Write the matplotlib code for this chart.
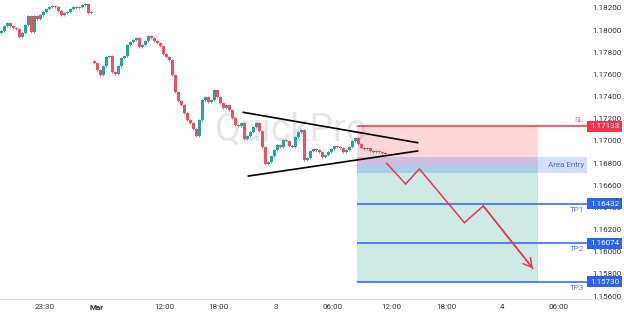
import matplotlib
matplotlib.use("Agg")
import matplotlib.pyplot as plt
from matplotlib.patches import Rectangle
from matplotlib.transforms import blended_transform_factory
import numpy as np

plt.rcParams['font.family'] = ['Roboto', 'DejaVu Sans']

# ---------------- data ----------------
closes = [
    1.17992, 1.18037, 1.18064, 1.18037, 1.18019, 1.18010, 1.17938, 1.17974, 1.18046, 1.18128,
    1.17983, 1.18128, 1.18100, 1.18137, 1.18164, 1.18191, 1.18209, 1.18218, 1.18209, 1.18173,
    1.18137, 1.18155, 1.18164, 1.18191, 1.18209, 1.18200, 1.18209, 1.18227, 1.18236, 1.18155,
    1.18160,
    1.17703, 1.17640, 1.17595, 1.17676, 1.17757, 1.17766, 1.17622, 1.17604, 1.17676, 1.17748,
    1.17766, 1.17866, 1.17893, 1.17911, 1.17929, 1.17848, 1.17866, 1.17902, 1.17947, 1.17929,
    1.17902, 1.17884, 1.17857, 1.17785, 1.17757, 1.17730, 1.17595, 1.17441, 1.17360, 1.17324,
    1.17252, 1.17189, 1.17162, 1.17107, 1.17044, 1.17189, 1.17369, 1.17396, 1.17351, 1.17369,
    1.17460, 1.17396, 1.17342, 1.17297, 1.17324, 1.17279, 1.17207, 1.17143, 1.17134, 1.17162,
    1.17017, 1.17044, 1.17080, 1.17125, 1.17162, 1.17089, 1.16945, 1.16791, 1.16810, 1.16864,
    1.16918, 1.16963, 1.16945, 1.17008, 1.16999, 1.16954, 1.16945, 1.17035, 1.17080, 1.17098,
    1.16827, 1.16846, 1.16909, 1.16927, 1.16918, 1.16900, 1.16855, 1.16873, 1.16900, 1.16927,
    1.16954, 1.16945, 1.16936, 1.16900, 1.16918, 1.16945, 1.16999, 1.17026, 1.16972, 1.16936,
    1.16927, 1.16936, 1.16909, 1.16900, 1.16909, 1.16900, 1.16891, 1.16882,
]
first_open = 1.17970
gap_index = 31
gap_open = 1.17720

x_tick_pos = [14.5, 31.83, 54.17, 72.17, 91.5, 110.5, 129.83, 148.17, 166.83, 185.83]
x_tick_labels = ["23:30", "Mar", "12:00", "18:00", "3", "06:00", "12:00", "18:00", "4", "06:00"]
y_ticks = [1.182, 1.180, 1.178, 1.176, 1.174, 1.172, 1.170, 1.168, 1.166, 1.164, 1.162, 1.160, 1.158, 1.156]

sl_level = 1.17133
tp_levels = [1.16432, 1.16074, 1.15730]
tp_names = ["TP1", "TP2", "TP3"]
entry_split = 1.16783
entry_band = (1.16710, 1.16855)
zone_x = (118.5, 178.8)

tri_upper_x = [80.6, 138.7]
tri_upper_y = [1.17258, 1.16984]
tri_lower_x = [82.3, 138.7]
tri_lower_y = [1.16683, 1.16909]

path_x = [128.4, 134.7, 139.3, 154.3, 160.6, 177.1]
path_y = [1.16798, 1.16611, 1.16747, 1.16262, 1.16413, 1.15850]

# ---------------- figure ----------------
W, H = 624, 316
fig = plt.figure(figsize=(W / 100, H / 100), dpi=100)
ax = fig.add_axes([0, 17 / H, 587 / W, 299 / H])
xmin, xmax = -0.5, 195.17
ax.set_xlim(xmin, xmax)
ax.set_ylim(1.15573, 1.18272)

UP = '#26a69a'
DN = '#ef4f5f'
RED = '#f23645'
BLUE = '#2962ff'

# candles
c = np.array(closes)
o = np.empty_like(c)
o[0] = first_open
o[1:] = c[:-1]
o[gap_index] = gap_open
idx = np.arange(len(c))
wick = 0.00009
hi = np.maximum(o, c) + wick
lo = np.minimum(o, c) - wick
cols = [UP if cc >= oo else DN for oo, cc in zip(o, c)]
ax.vlines(idx, lo, hi, colors=cols, linewidth=0.6, zorder=3)
body_h = np.maximum(np.abs(c - o), 0.00004)
ax.bar(idx, body_h, bottom=np.minimum(o, c), width=0.7, color=cols, linewidth=0, zorder=3)

# watermark
ax.text(96.5, 1.17099, "QuickPro", fontsize=27, color='#909090', alpha=0.22,
        ha='center', va='center', zorder=2.8)

# zones
ax.add_patch(Rectangle((zone_x[0], entry_split), zone_x[1] - zone_x[0], sl_level - entry_split,
                       facecolor=RED, alpha=0.2, linewidth=0, zorder=2))
ax.add_patch(Rectangle((zone_x[0], tp_levels[2]), zone_x[1] - zone_x[0], entry_split - tp_levels[2],
                       facecolor='#089981', alpha=0.2, linewidth=0, zorder=2))
ax.add_patch(Rectangle((zone_x[0], entry_band[0]), xmax - zone_x[0], entry_band[1] - entry_band[0],
                       facecolor=BLUE, alpha=0.2, linewidth=0, zorder=2.5))

# levels
ax.hlines(sl_level, zone_x[0], xmax, colors=RED, linewidth=1.1, zorder=4)
for lv in tp_levels:
    ax.hlines(lv, zone_x[0], xmax, colors=BLUE, linewidth=1.1, zorder=4)

# triangle
ax.plot(tri_upper_x, tri_upper_y, color='black', linewidth=1.2, zorder=5)
ax.plot(tri_lower_x, tri_lower_y, color='black', linewidth=1.2, zorder=5)

# projected path
ax.plot(path_x, path_y, color='#e53950', linewidth=1.1, zorder=5, solid_joinstyle='miter')
ax.annotate('', xy=(path_x[-1], path_y[-1]), xytext=(path_x[-2], path_y[-2]),
            arrowprops=dict(arrowstyle='->,head_length=0.6,head_width=0.35', color='#e53950',
                            lw=1.1, shrinkA=0, shrinkB=0), zorder=5)

# axes styling
for s in ax.spines.values():
    s.set_visible(False)
ax.yaxis.tick_right()
ax.set_yticks(y_ticks)
ax.set_yticklabels([f"{v:.5f}" for v in y_ticks])
ax.tick_params(axis='y', length=0, pad=3.6, labelsize=5.8, labelcolor='#333333')
ax.set_xticks(x_tick_pos)
ax.set_xticklabels(x_tick_labels)
ax.tick_params(axis='x', length=0, pad=3.4, labelsize=5.8, labelcolor='#333333')
for t in ax.get_xticklabels():
    if t.get_text() == "Mar":
        t.set_fontweight('bold')

# bottom axis line across figure
fig.add_artist(plt.Line2D([0, 1], [17 / H, 17 / H], color='#e0e3eb', linewidth=0.8))

# labels on right
bt = blended_transform_factory(ax.transAxes, ax.transData)
pxy = 0.00009028
box_w = 35 / 587
box_h = 11 * pxy


def price_box(level, color):
    ax.add_patch(Rectangle((1.0, level - box_h / 2), box_w, box_h, transform=bt,
                           facecolor=color, linewidth=0, clip_on=False, zorder=10))
    ax.text(1.0 + box_w / 2, level, f"{level:.5f}", transform=bt, color='white', fontsize=5.8,
            ha='center', va='center', zorder=11, clip_on=False)


price_box(sl_level, RED)
for lv in tp_levels:
    price_box(lv, BLUE)

ax.text(0.995, sl_level + 6 * pxy, "SL", transform=bt, color='#f5737f', fontsize=5.8,
        ha='right', va='center', zorder=11)
for lv, nm in zip(tp_levels, tp_names):
    ax.text(0.995, lv - 6 * pxy, nm, transform=bt, color='#4f74e0', fontsize=5.8,
            ha='right', va='center', zorder=11)
ax.text(0.995, (entry_band[0] + entry_band[1]) / 2, "Area Entry", transform=bt, color='#4a6fd6',
        fontsize=5.8, ha='right', va='center', zorder=11)

fig.savefig("out.png", dpi=100)
